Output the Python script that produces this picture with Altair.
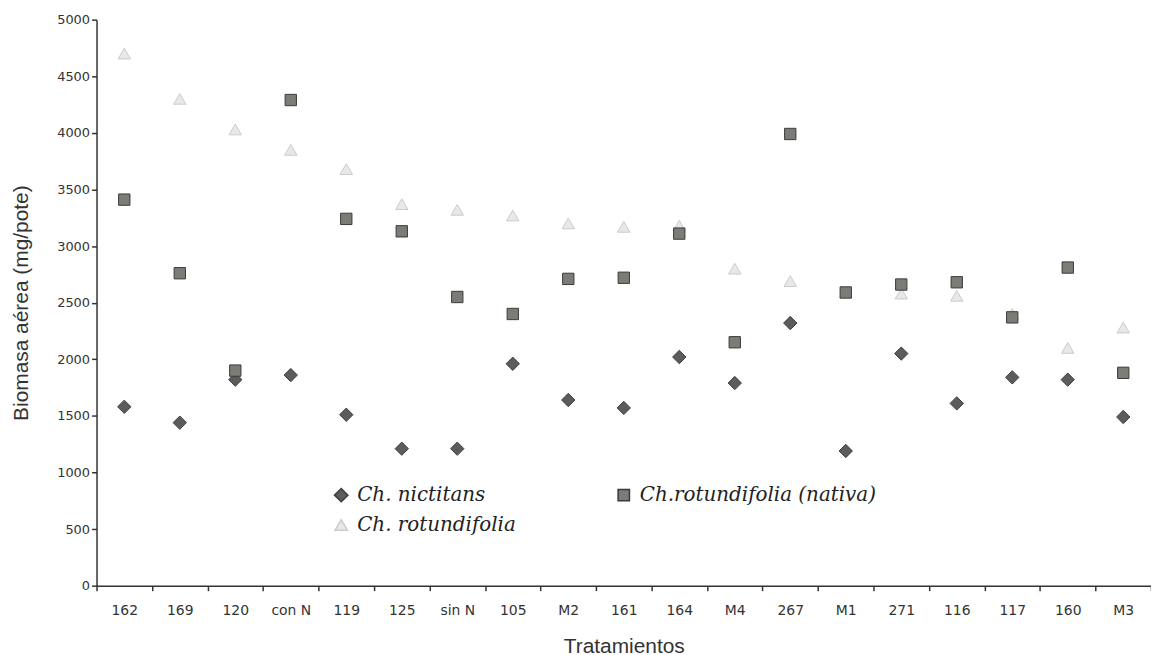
import altair as alt
import pandas as pd

tratamientos = ["162", "169", "120", "con N", "119", "125", "sin N", "105", "M2", "161",
                "164", "M4", "267", "M1", "271", "116", "117", "160", "M3"]
nictitans = [1580, 1440, 1820, 1860, 1510, 1210, 1210, 1960, 1640, 1570,
             2020, 1790, 2320, 1190, 2050, 1610, 1840, 1820, 1490]
rotundifolia = [4700, 4300, 4030, 3850, 3680, 3370, 3320, 3270, 3200, 3170,
                3180, 2800, 2690, 2590, 2580, 2560, 2400, 2100, 2280]
nativa = [3410, 2760, 1900, 4290, 3240, 3130, 2550, 2400, 2710, 2720,
          3110, 2150, 3990, 2590, 2660, 2680, 2370, 2810, 1880]

series_names = ["Ch. nictitans", "Ch. rotundifolia", "Ch.rotundifolia (nativa)"]
shapes = ["diamond", "triangle-up", "square"]
fills = ["#5c5c5c", "#e8e8e8", "#7c7c76"]
strokes = ["#3e3e3e", "#cbcbcb", "#3a3a3a"]
sizes = [180, 130, 190]

rows = []
for name, vals in [(series_names[0], nictitans), (series_names[1], rotundifolia), (series_names[2], nativa)]:
    for t, v in zip(tratamientos, vals):
        rows.append({"Tratamiento": t, "Biomasa": v, "Serie": name})
df = pd.DataFrame(rows)

leg = alt.Legend(title=None, orient="none", legendX=236, legendY=468, columns=2,
                 columnPadding=98, rowPadding=10, labelFont="DejaVu Serif",
                 labelFontStyle="italic", labelFontSize=20, labelColor="#222",
                 labelLimit=400, symbolSize=150, labelOffset=6, values=series_names)

chart = alt.Chart(df).mark_point(filled=True, opacity=1, strokeWidth=1).encode(
    x=alt.X("Tratamiento:N", sort=tratamientos, title="Tratamientos",
            scale=alt.Scale(type="band", paddingInner=0, paddingOuter=0),
            axis=alt.Axis(labelAngle=0, tickBand="extent", tickSize=5, labelPadding=13,
                          labelFontSize=14, titlePadding=18)),
    y=alt.Y("Biomasa:Q", title="Biomasa aérea (mg/pote)",
            scale=alt.Scale(domain=[0, 5000], nice=False),
            axis=alt.Axis(values=list(range(0, 5001, 500)), grid=False, tickSize=5,
                          format="d", labelPadding=2, labelFontSize=13, titlePadding=25)),
    shape=alt.Shape("Serie:N", sort=series_names,
                    scale=alt.Scale(domain=series_names, range=shapes), legend=leg),
    color=alt.Color("Serie:N", sort=series_names,
                    scale=alt.Scale(domain=series_names, range=fills), legend=leg),
    stroke=alt.Stroke("Serie:N", sort=series_names,
                      scale=alt.Scale(domain=series_names, range=strokes), legend=leg),
    size=alt.Size("Serie:N", sort=series_names,
                  scale=alt.Scale(domain=series_names, range=sizes), legend=None),
).properties(
    width=1060, height=569, autosize="none",
    padding={"left": 89, "top": 10, "right": 0, "bottom": 70}
).configure_view(stroke=None).configure_axis(
    domainColor="#333", domainWidth=1.5, tickColor="#333", tickWidth=1.5,
    labelFont="DejaVu Sans", labelColor="#333",
    titleFont="Liberation Sans", titleFontSize=21, titleFontWeight="normal", titleColor="#333"
)

chart.save("out.html", embed_options={"renderer": "svg", "actions": False})
